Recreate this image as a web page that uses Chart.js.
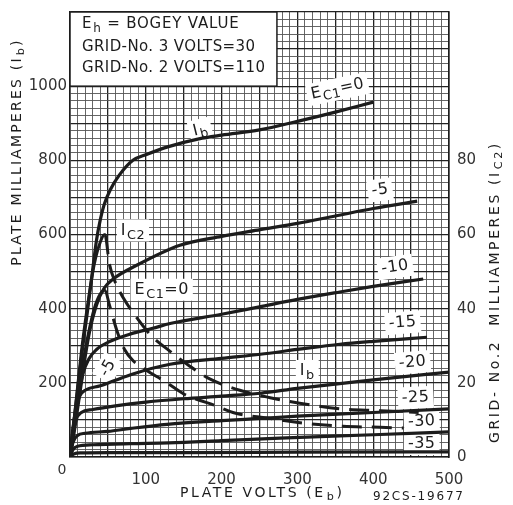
<!DOCTYPE html>
<html>
<head>
<meta charset="utf-8">
<script src="https://cdn.jsdelivr.net/npm/chart.js@4.4.0/dist/chart.umd.min.js"></script>
<style>
  html, body { margin:0; padding:0; background:#fff; }
  #wrap { width:513px; height:505px; }
</style>
</head>
<body>
<div id="wrap"><canvas id="chart" width="513" height="505"></canvas></div>
<script>
// plate current curves, [plate volts, plate mA], one per grid-1 voltage
const IB_0   = [[0,0],[5,90],[11,200],[17,300],[23,392],[29,490],[35,585],[40,640],[45,680],[53,720],[65,760],[83,800],[100,815],[130,837],[170,858],[200,868],[250,882],[300,905],[350,930],[400,957]];
const IB_M5  = [[0,0],[5,60],[10,130],[15,200],[20,270],[26,340],[35,410],[45,455],[57,480],[88,517],[145,571],[200,595],[251,613],[300,630],[350,650],[400,670],[458,690]];
const IB_M10 = [[0,0],[5,80],[10,150],[17,224],[25,265],[35,290],[53,312],[80,332],[109,347],[132,360],[200,385],[250,405],[300,425],[356,445],[400,460],[466,480]];
const IB_M15 = [[0,0],[4,80],[8,130],[13,165],[20,180],[40,192],[60,207],[83,224],[132,250],[200,266],[251,277],[300,290],[356,304],[400,312],[471,323]];
const IB_M20 = [[0,0],[4,60],[8,100],[15,120],[30,128],[60,138],[100,148],[150,157],[200,164],[251,172],[300,185],[400,208],[500,229]];
const IB_M25 = [[0,0],[4,40],[10,58],[20,64],[50,69],[80,77],[128,88],[200,98],[251,104],[300,110],[400,120],[500,130]];
const IB_M30 = [[0,0],[4,20],[10,29],[30,33],[80,36],[130,38],[200,44],[277,51],[400,60],[500,68]];
const IB_M35 = [[0,0],[5,8],[15,11],[50,12],[150,12],[300,13],[500,14]];

// grid-No.2 current curves, [plate volts, screen mA] on the right axis
const IC2_0  = [[0,0],[8,15],[16,30],[24,42],[32,52],[40,58],[46,60],[52,52],[60,47],[70,43],[83,39],[106,33],[132,28.5],[158,24.5],[185,21],[224,18],[264,16],[303,14.5],[356,13],[409,12.5],[460,12]];
const IC2_M5 = [[0,0],[8,12],[16,24],[24,33],[32,40],[40,44],[46,45],[52,41],[62,34],[72,29],[83,26],[96,24],[128,20],[150,17],[168,15.5],[190,14],[215,12],[260,10.5],[313,9],[360,8.3],[409,8],[440,7.8]];
const IC2_PEAK = [46, 46];

// tick labels
const X_LABELS = [100, 200, 300, 400, 500];
const Y_LABELS = [200, 400, 600, 800, 1000];
const Y2_LABELS = [0, 20, 40, 60, 80];

// curve annotations: [main, sub, tail, volts, mA, rotation deg]
const CURVE_TAGS = [
  ['I', 'b', '', 172, 882, -14],
  ['E', 'C1', '=0', 353, 992, -12],
  ['-5', '', '', 409, 720, -8],
  ['-10', '', '', 429, 512, -8],
  ['-15', '', '', 439, 362, -5],
  ['-20', '', '', 452, 255, -5],
  ['-25', '', '', 456, 160, -3],
  ['-30', '', '', 464, 96, -3],
  ['-35', '', '', 464, 35, 0],
  ['I', 'b', '', 313, 232, 0],
  ['I', 'C2', '', 83, 611, 0],
  ['E', 'C1', '=0', 121, 451, 0],
  ['-5', '', '', 50, 240, -60]
];

const INK = '#1c1c1c';
const FONT = '"DejaVu Sans", sans-serif';

function pts(arr) { return arr.map(p => ({ x:p[0], y:p[1] })); }

function ibSet(arr) {
  return { data:pts(arr), yAxisID:'y', borderColor:INK, borderWidth:3.2, pointRadius:0,
           showLine:true, cubicInterpolationMode:'monotone', fill:false };
}
function ic2Set(arr, peak) {
  return { data:pts(arr), yAxisID:'y2', borderColor:INK, borderWidth:3, pointRadius:0,
           showLine:true, cubicInterpolationMode:'monotone', fill:false,
           segment:{ borderDash: c => c.p0.parsed.x >= peak ? [20, 10] : undefined } };
}

// text with a subscript; returns width and a draw fn
function tagText(ctx, main, sub, tail, size, sp) {
  ctx.letterSpacing = (sp || 0) + 'px';
  ctx.font = size + 'px ' + FONT;
  const w1 = ctx.measureText(main).width, w3 = ctx.measureText(tail).width;
  ctx.font = (size * 0.8) + 'px ' + FONT;
  const w2 = sub ? ctx.measureText(sub).width + 1 : 0;
  return { w: w1 + w2 + w3, draw: (x, y) => {
    ctx.letterSpacing = (sp || 0) + 'px';
    ctx.font = size + 'px ' + FONT;
    ctx.fillText(main, x, y);
    if (sub) { ctx.font = (size * 0.8) + 'px ' + FONT; ctx.fillText(sub, x + w1 + 1, y + size * 0.3); }
    ctx.font = size + 'px ' + FONT;
    ctx.fillText(tail, x + w1 + w2, y);
    ctx.letterSpacing = '0px';
  }};
}

const decor = {
  id:'decor',
  beforeDatasetsDraw(chart) {
    const { ctx, scales:{ x, y } } = chart;
    ctx.save();
    // white patches behind curve labels
    CURVE_TAGS.forEach(t => {
      const m = tagText(ctx, t[0], t[1], t[2], 16, 0.5);
      ctx.save();
      ctx.translate(x.getPixelForValue(t[3]), y.getPixelForValue(t[4]));
      ctx.rotate(t[5] * Math.PI / 180);
      ctx.fillStyle = '#fff';
      ctx.fillRect(-m.w / 2 - 4, -11, m.w + 8, 22);
      ctx.restore();
    });
    // note box in the upper left
    const bx0 = x.getPixelForValue(0), bx1 = x.getPixelForValue(273);
    const by0 = y.getPixelForValue(1200), by1 = y.getPixelForValue(1000);
    ctx.fillStyle = '#fff';
    ctx.fillRect(bx0, by0, bx1 - bx0, by1 - by0);
    ctx.strokeStyle = INK; ctx.lineWidth = 1.5;
    ctx.strokeRect(bx0, by0, bx1 - bx0, by1 - by0);
    ctx.restore();
  },
  afterDatasetsDraw(chart) {
    const { ctx, scales:{ x, y } } = chart;
    ctx.save();
    ctx.fillStyle = INK;
    ctx.textBaseline = 'middle';
    ctx.textAlign = 'left';
    CURVE_TAGS.forEach(t => {
      const m = tagText(ctx, t[0], t[1], t[2], 16, 0.5);
      ctx.save();
      ctx.translate(x.getPixelForValue(t[3]), y.getPixelForValue(t[4]));
      ctx.rotate(t[5] * Math.PI / 180);
      m.draw(-m.w / 2, 0);
      ctx.restore();
    });
    // box text
    const bx = x.getPixelForValue(0) + 12;
    let m = tagText(ctx, 'E', 'h', ' = BOGEY VALUE', 15, 0.8);
    m.draw(bx, 24);
    m = tagText(ctx, 'GRID-No. 3 VOLTS=30', '', '', 15, 0.4);
    m.draw(bx, 47);
    m = tagText(ctx, 'GRID-No. 2 VOLTS=110', '', '', 15, 0.4);
    m.draw(bx, 68);
    // shared zero
    ctx.fillStyle = '#333';
    ctx.textAlign = 'center';
    ctx.font = '14px ' + FONT;
    ctx.fillText('0', x.left - 8, y.bottom + 13);
    // axis titles
    ctx.fillStyle = INK;
    ctx.textAlign = 'left';
    m = tagText(ctx, 'PLATE VOLTS (E', 'b', ')', 14, 2.6);
    m.draw(180, 493);
    m = tagText(ctx, '92CS-19677', '', '', 12, 1.8);
    m.draw(373, 497);
    ctx.save();
    ctx.translate(17, 152);
    ctx.rotate(-Math.PI / 2);
    m = tagText(ctx, 'PLATE MILLIAMPERES (I', 'b', ')', 14, 2.2);
    m.draw(-m.w / 2, 0);
    ctx.restore();
    ctx.save();
    ctx.translate(495, 292);
    ctx.rotate(-Math.PI / 2);
    m = tagText(ctx, 'GRID- No.2  MILLIAMPERES (I', 'C2', ')', 14, 2.6);
    m.draw(-m.w / 2, 0);
    ctx.restore();
    ctx.restore();
  }
};

const gridStyle = major => ({
  color: c => (c.tick && c.tick.value % major === 0) ? '#222' : '#555',
  lineWidth: c => (c.tick && c.tick.value % major === 0) ? 1.3 : 0.9,
  drawTicks:false
});

new Chart(document.getElementById('chart'), {
  type:'scatter',
  data:{ datasets:[
    ibSet(IB_0), ibSet(IB_M5), ibSet(IB_M10), ibSet(IB_M15),
    ibSet(IB_M20), ibSet(IB_M25), ibSet(IB_M30), ibSet(IB_M35),
    ic2Set(IC2_0, IC2_PEAK[0]), ic2Set(IC2_M5, IC2_PEAK[1])
  ]},
  options:{
    responsive:false, animation:false,
    layout:{ padding:{ top:7, left:0, right:0, bottom:0 } },
    plugins:{ legend:{ display:false }, tooltip:{ enabled:false } },
    scales:{
      x:{ type:'linear', min:0, max:500,
          afterBuildTicks: s => { s.ticks = []; for (let v = 0; v <= 500; v += 10) s.ticks.push({ value:v }); },
          afterFit: s => { s.height = 48; },
          grid:gridStyle(50), border:{ color:INK, width:1.6 },
          ticks:{ autoSkip:false, maxRotation:0, padding:14, color:'#333', font:{ family:FONT, size:15 },
                  callback: v => X_LABELS.includes(v) ? v : '' } },
      y:{ type:'linear', min:0, max:1200, position:'left',
          afterBuildTicks: s => { s.ticks = []; for (let v = 0; v <= 1200; v += 20) s.ticks.push({ value:v }); },
          afterFit: s => { s.width = 70; },
          grid:gridStyle(100), border:{ color:INK, width:1.6 },
          ticks:{ autoSkip:false, padding:3, color:'#333', font:{ family:FONT, size:15 },
                  callback: v => Y_LABELS.includes(v) ? v : '' } },
      y2:{ type:'linear', min:0, max:120, position:'right',
          afterBuildTicks: s => { s.ticks = []; for (let v = 0; v <= 120; v += 20) s.ticks.push({ value:v }); },
          afterFit: s => { s.width = 64; },
          grid:{ display:false }, border:{ color:INK, width:1.6 },
          ticks:{ autoSkip:false, padding:0, color:'#333', font:{ family:FONT, size:15 },
                  callback: v => Y2_LABELS.includes(v) ? v : '' } }
    }
  },
  plugins:[decor]
});
</script>
</body>
</html>
